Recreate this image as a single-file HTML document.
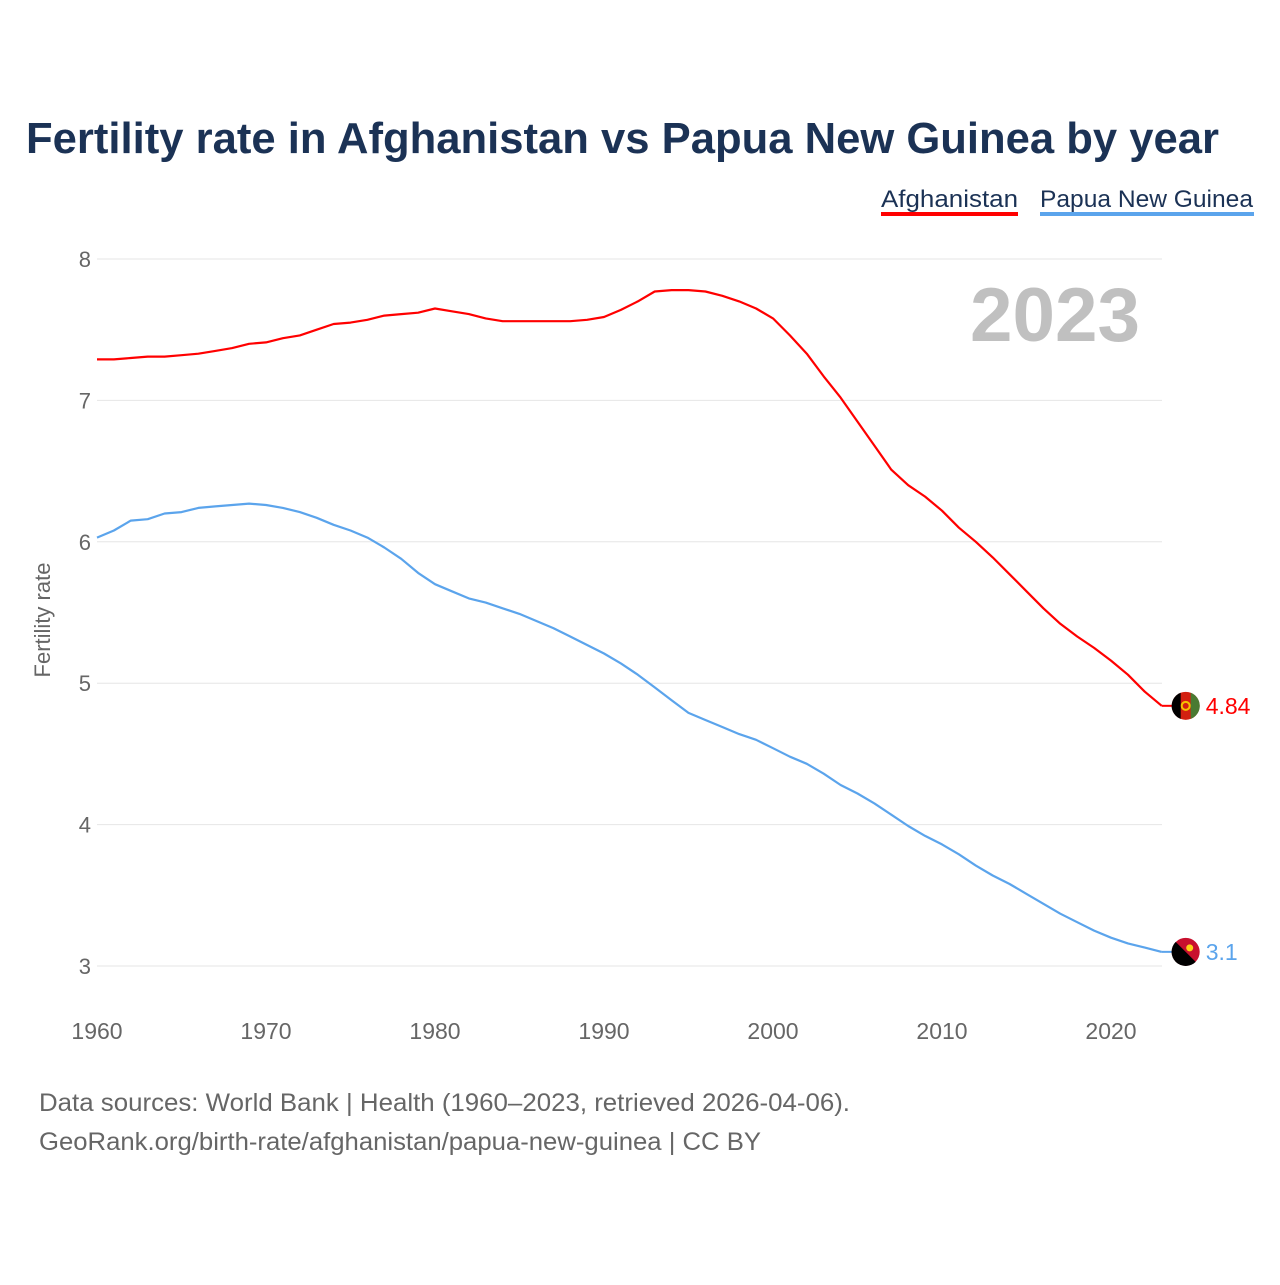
<!DOCTYPE html>
<html><head><meta charset="utf-8"><style>
body{margin:0;background:#fff;width:1280px;height:1280px;overflow:hidden;font-family:"Liberation Sans",sans-serif}
</style></head><body>
<svg id="chart" width="1280" height="1280" xmlns="http://www.w3.org/2000/svg">
<text x="26" y="153" font-size="44" font-weight="bold" fill="#1b3255" textLength="1193" lengthAdjust="spacingAndGlyphs">Fertility rate in Afghanistan vs Papua New Guinea by year</text>
<g><text x="881" y="207" font-size="24" fill="#1b3255" textLength="137" lengthAdjust="spacingAndGlyphs">Afghanistan</text><rect x="881" y="212" width="137" height="4" fill="#ff0000"/></g>
<g><text x="1040" y="207" font-size="24" fill="#1b3255" textLength="213" lengthAdjust="spacingAndGlyphs">Papua New Guinea</text><rect x="1040" y="212" width="214" height="4" fill="#5ba4ec"/></g>
<text x="1140" y="341" font-size="76" font-weight="bold" fill="#c0c0c0" text-anchor="end" textLength="170" lengthAdjust="spacingAndGlyphs">2023</text>
<text transform="translate(50,620) rotate(-90)" font-size="22" fill="#666" text-anchor="middle">Fertility rate</text>
<g id="grid"></g><g id="xt"></g><g id="series"></g>
<text x="39" y="1111" font-size="25" fill="#666" textLength="811" lengthAdjust="spacingAndGlyphs">Data sources: World Bank | Health (1960–2023, retrieved 2026-04-06).</text>
<text x="39" y="1150" font-size="25" fill="#666" textLength="722" lengthAdjust="spacingAndGlyphs">GeoRank.org/birth-rate/afghanistan/papua-new-guinea | CC BY</text>
</svg>
<script>
const years=[];for(let y=1960;y<=2023;y++)years.push(y);
const afghanistan=[7.29,7.29,7.30,7.31,7.31,7.32,7.33,7.35,7.37,7.40,7.41,7.44,7.46,7.50,7.54,7.55,7.57,7.60,7.61,7.62,7.65,7.63,7.61,7.58,7.56,7.56,7.56,7.56,7.56,7.57,7.59,7.64,7.70,7.77,7.78,7.78,7.77,7.74,7.70,7.65,7.58,7.46,7.33,7.17,7.02,6.85,6.68,6.51,6.40,6.32,6.22,6.10,6.00,5.89,5.77,5.65,5.53,5.42,5.33,5.25,5.16,5.06,4.94,4.84];
const png=[6.03,6.08,6.15,6.16,6.20,6.21,6.24,6.25,6.26,6.27,6.26,6.24,6.21,6.17,6.12,6.08,6.03,5.96,5.88,5.78,5.70,5.65,5.60,5.57,5.53,5.49,5.44,5.39,5.33,5.27,5.21,5.14,5.06,4.97,4.88,4.79,4.74,4.69,4.64,4.60,4.54,4.48,4.43,4.36,4.28,4.22,4.15,4.07,3.99,3.92,3.86,3.79,3.71,3.64,3.58,3.51,3.44,3.37,3.31,3.25,3.20,3.16,3.13,3.10];
const yTicks=[3,4,5,6,7,8];
const xTicks=[1960,1970,1980,1990,2000,2010,2020];
const NS="http://www.w3.org/2000/svg";
const X=y=>97+(y-1960)*(1111-97)/60;
const Y=v=>966-(v-3)*(966-259)/5;
function el(t,a,p){const e=document.createElementNS(NS,t);for(const k in a)e.setAttribute(k,a[k]);p.appendChild(e);return e;}
const grid=document.getElementById('grid');
yTicks.forEach(t=>{
 const l=el('line',{x1:97,x2:1162,y1:Y(t),y2:Y(t),stroke:'#e6e6e6','stroke-width':1},grid);
 
 
 const tx=el('text',{x:91,y:Y(t)+8,'font-size':22,fill:'#666','text-anchor':'end'},grid);tx.textContent=t;
 
 
});
const xt=document.getElementById('xt');
xTicks.forEach(t=>{
 const tx=el('text',{x:X(t),y:1039,'font-size':23,fill:'#666','text-anchor':'middle'},xt);tx.textContent=t;
 
 
});
const s=document.getElementById('series');
function line(data,color,name,label){
 const p=el('path',{d:data.map((v,i)=>(i?'L':'M')+X(years[i]).toFixed(1)+','+Y(v).toFixed(1)).join(''),fill:'none',stroke:color,'stroke-width':2.2,'stroke-linejoin':'round'},s);
 
 
 const lx=X(2023),ly=Y(data[data.length-1]);
 el('line',{x1:lx,x2:lx+12,y1:ly,y2:ly,stroke:color,'stroke-width':2},s);
 const cx=lx+24;
 const c=el('circle',{cx:cx,cy:ly,r:14,fill:color==='#ff0000'?'#d32011':'#c8102e'},s);
 
 
 if(color==='#ff0000'){
  el('path',{d:`M${cx-5},${ly-13.1}A14,14 0 0 0 ${cx-5},${ly+13.1}Z`,fill:'#000'},s);
  el('path',{d:`M${cx+5},${ly-13.1}A14,14 0 0 1 ${cx+5},${ly+13.1}Z`,fill:'#4a7a32'},s);
  el('circle',{cx:cx,cy:ly,r:4,fill:'none',stroke:'#f5c400','stroke-width':2},s);
 } else {
  el('path',{d:`M${cx-10},${ly-10}L${cx+10},${ly+10}A14,14 0 0 1 ${cx-10},${ly-10}Z`,fill:'#000'},s);
  el('circle',{cx:cx+4,cy:ly-4,r:3.5,fill:'#fcd116'},s);
 }
 const t=el('text',{x:lx+44,y:ly+8,'font-size':23,fill:color},s);t.textContent=label;
 
 
}
line(afghanistan,'#ff0000','afghanistan','4.84');
line(png,'#5ba4ec','papua-new-guinea','3.1');
</script>
</body></html>
